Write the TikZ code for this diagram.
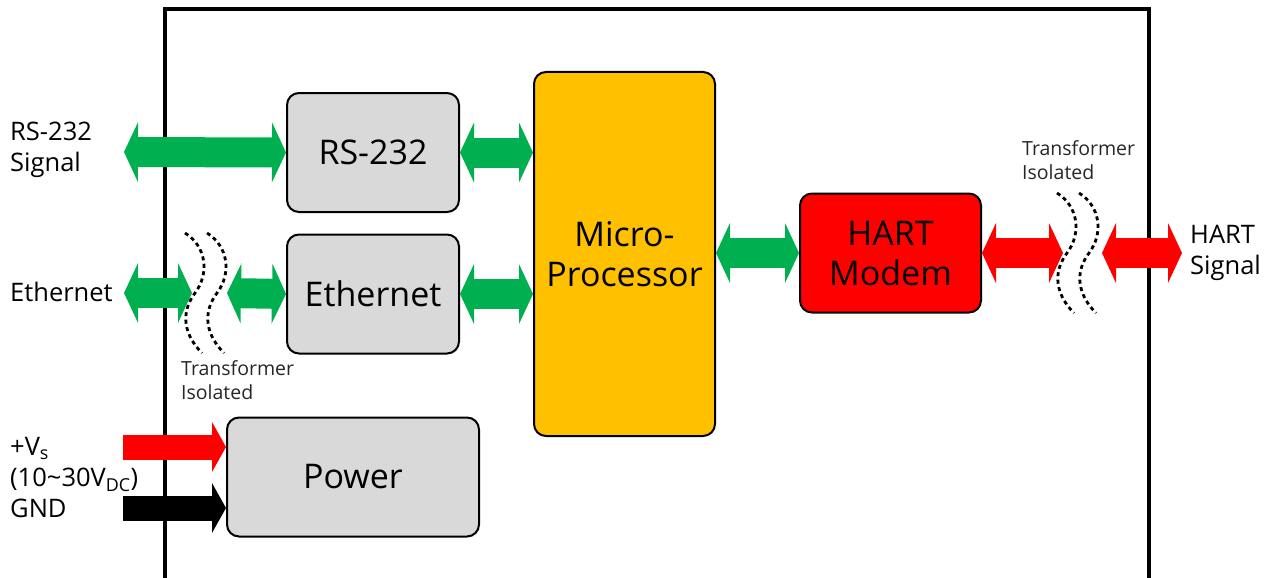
\documentclass[tikz,border=0pt]{standalone}
\usepackage{fontspec}
\setmainfont{Open Sans}
\usetikzlibrary{arrows.meta}
\definecolor{busgreen}{HTML}{00B050}
\definecolor{modemred}{HTML}{FF0000}
\definecolor{mcuyellow}{HTML}{FFC000}
\definecolor{boxgray}{HTML}{D9D9D9}

\begin{document}
\begin{tikzpicture}[x=1pt,y=-1pt,
  blk/.style={draw,line width=2pt,rounded corners=12pt,fill=boxgray,inner sep=0pt,
    align=center,font=\fontsize{34}{40}\selectfont},
  bus/.style={busgreen,line width=30pt,
    {Triangle[length=14pt,width=60pt,line width=0pt]}-{Triangle[length=14pt,width=60pt,line width=0pt]}},
  feed/.style={line width=25pt,-{Triangle[length=14pt,width=50pt,line width=0pt]}},
  lbl/.style={anchor=west,align=left,inner sep=0pt,font=\fontsize{25.5}{31}\selectfont},
  small/.style={lbl,text=black!85,font=\fontsize{19.5}{24}\selectfont},
  iso/.style={line width=2.8pt,dash pattern=on 4pt off 3.5pt},
  wave/.pic={\draw[iso] (0,0) .. controls (21,13) and (25,40) .. (10,60)
    .. controls (-5,80) and (-1,102) .. (17,120);}]
  \useasboundingbox (0,0) rectangle (1277,578);
  % frame
  \draw[line width=4pt] (165,600) -- (165,9.5) -- (1148.5,9.5) -- (1148.5,600);
  % blocks
  \node[blk,minimum width=172pt,minimum height=119pt] (rs) at (373,152.5) {RS-232};
  \node[blk,minimum width=172pt,minimum height=119pt] (eth) at (373,294) {Ethernet};
  \node[blk,fill=mcuyellow,minimum width=181pt,minimum height=364pt] (mcu) at (624.5,254) {Micro-\\Processor};
  \node[blk,fill=modemred,minimum width=181pt,minimum height=119pt] (hart) at (890.5,253) {HART\\Modem};
  \node[blk,minimum width=252pt,minimum height=119pt] (pwr) at (353,477) {Power};
  % free ends
  \coordinate (rsin) at (124,152);
  \coordinate (ethin) at (124,293);
  \coordinate (ethiso) at (192,293);
  \coordinate (ethout) at (227,293);
  \coordinate (hartiso) at (1063,253);
  \coordinate (hartout) at (1102,253);
  \coordinate (hartend) at (1182,253);
  \coordinate (vsin) at (123,447);
  \coordinate (gndin) at (123,508);
  % buses
  \draw[bus] (rsin) -- (rs.west);
  \draw[bus] (rs.east) -- (rs.east -| mcu.west);
  \draw[bus] (ethin) -- (ethiso);
  \draw[bus] (ethout) -- (eth.west);
  \draw[bus] (eth.east) -- (eth.east -| mcu.west);
  \draw[bus] (mcu.east |- hart.west) -- (hart.west);
  \draw[bus,modemred] (hart.east) -- (hartiso);
  \draw[bus,modemred] (hartout) -- (hartend);
  \draw[feed,modemred] (vsin) -- (vsin -| pwr.west);
  \draw[feed,black] (gndin) -- (gndin -| pwr.west);
  % transformer isolation
  \foreach \p in {(185,233),(207,233),(1057,193),(1079,193)}
    \pic at \p {wave};
  % labels
  \node[lbl] (rssig) at (10,150) {RS-232\\Signal};
  \node[lbl] (ethsig) at (10,292) {Ethernet};
  \node[lbl] (hartsig) at (1190,253) {HART\\Signal};
  \node[lbl] (pwrsig) at (10,478) {+V\textsubscript{s}\\(10\textasciitilde30V\textsubscript{DC})\\GND};
  \node[small] (isol) at (181,380) {Transformer\\Isolated};
  \node[small] (isor) at (1022,160) {Transformer\\Isolated};
\end{tikzpicture}
\end{document}
